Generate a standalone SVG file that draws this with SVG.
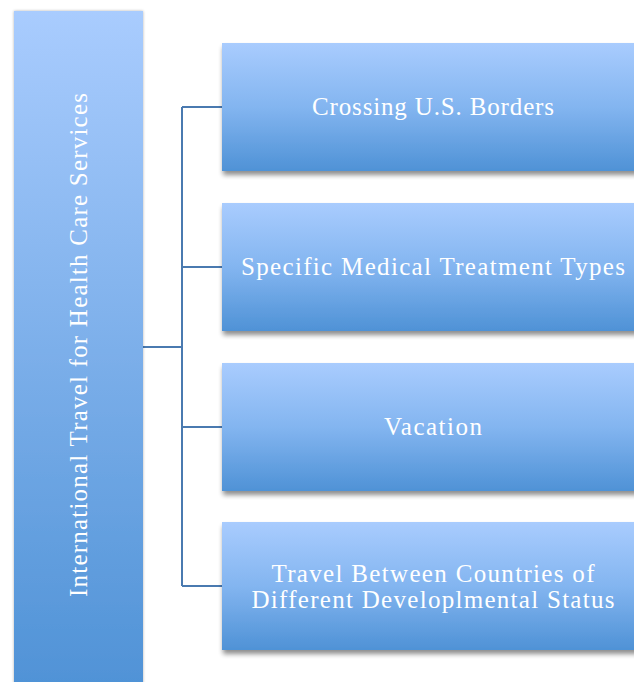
<svg xmlns="http://www.w3.org/2000/svg" width="634" height="682" viewBox="0 0 634 682">
<defs>
<linearGradient id="g" x1="0" y1="0" x2="0" y2="1">
<stop offset="0" stop-color="#a9ccfe"/>
<stop offset="0.5" stop-color="#83b5f0"/>
<stop offset="1" stop-color="#4f92d6"/>
</linearGradient>
<linearGradient id="gl" x1="0" y1="0" x2="0" y2="1">
<stop offset="0" stop-color="#a9ccfe"/>
<stop offset="1" stop-color="#4f92d6"/>
</linearGradient>
<filter id="sh" x="-10%" y="-10%" width="130%" height="130%">
<feGaussianBlur in="SourceAlpha" stdDeviation="2.5"/>
<feOffset dx="1" dy="4" result="b"/>
<feComponentTransfer><feFuncA type="linear" slope="0.45"/></feComponentTransfer>
<feMerge><feMergeNode/><feMergeNode in="SourceGraphic"/></feMerge>
</filter>
<filter id="shl" x="-10%" y="-10%" width="120%" height="120%">
<feGaussianBlur in="SourceAlpha" stdDeviation="1.5"/>
<feComponentTransfer><feFuncA type="linear" slope="0.3"/></feComponentTransfer>
<feMerge><feMergeNode/><feMergeNode in="SourceGraphic"/></feMerge>
</filter>
</defs>
<style>
.t{font-family:"Liberation Serif","DejaVu Serif",serif;font-size:25px;fill:#ffffff;text-anchor:middle}
.c{fill:none;stroke:#4a7ab0;stroke-width:2}
</style>
<rect width="634" height="682" fill="#ffffff"/>
<g id="connectors">
<path class="c" d="M143 347H182M182 107V586M182 107H222M182 267H222M182 427H222M182 586H222"/>
</g>
<g id="root">
<rect x="14" y="11" width="129" height="680" fill="url(#gl)" filter="url(#shl)"/>
<text class="t" transform="translate(87 345) rotate(-90)" textLength="504" lengthAdjust="spacing">International Travel for Health Care Services</text>
</g>
<g id="n1">
<rect x="222" y="43" width="422" height="128" fill="url(#g)" filter="url(#sh)"/>
<text class="t" x="433" y="115" textLength="242" lengthAdjust="spacing">Crossing U.S. Borders</text>
</g>
<g id="n2">
<rect x="222" y="203" width="422" height="128" fill="url(#g)" filter="url(#sh)"/>
<text class="t" x="433" y="275" textLength="384" lengthAdjust="spacing">Specific Medical Treatment Types</text>
</g>
<g id="n3">
<rect x="222" y="363" width="422" height="128" fill="url(#g)" filter="url(#sh)"/>
<text class="t" x="433" y="435" textLength="98" lengthAdjust="spacing">Vacation</text>
</g>
<g id="n4">
<rect x="222" y="522" width="422" height="128" fill="url(#g)" filter="url(#sh)"/>
<text class="t" x="433" y="582" textLength="323" lengthAdjust="spacing">Travel Between Countries of</text>
<text class="t" x="433" y="608" textLength="363" lengthAdjust="spacing">Different Developlmental Status</text>
</g>
</svg>
